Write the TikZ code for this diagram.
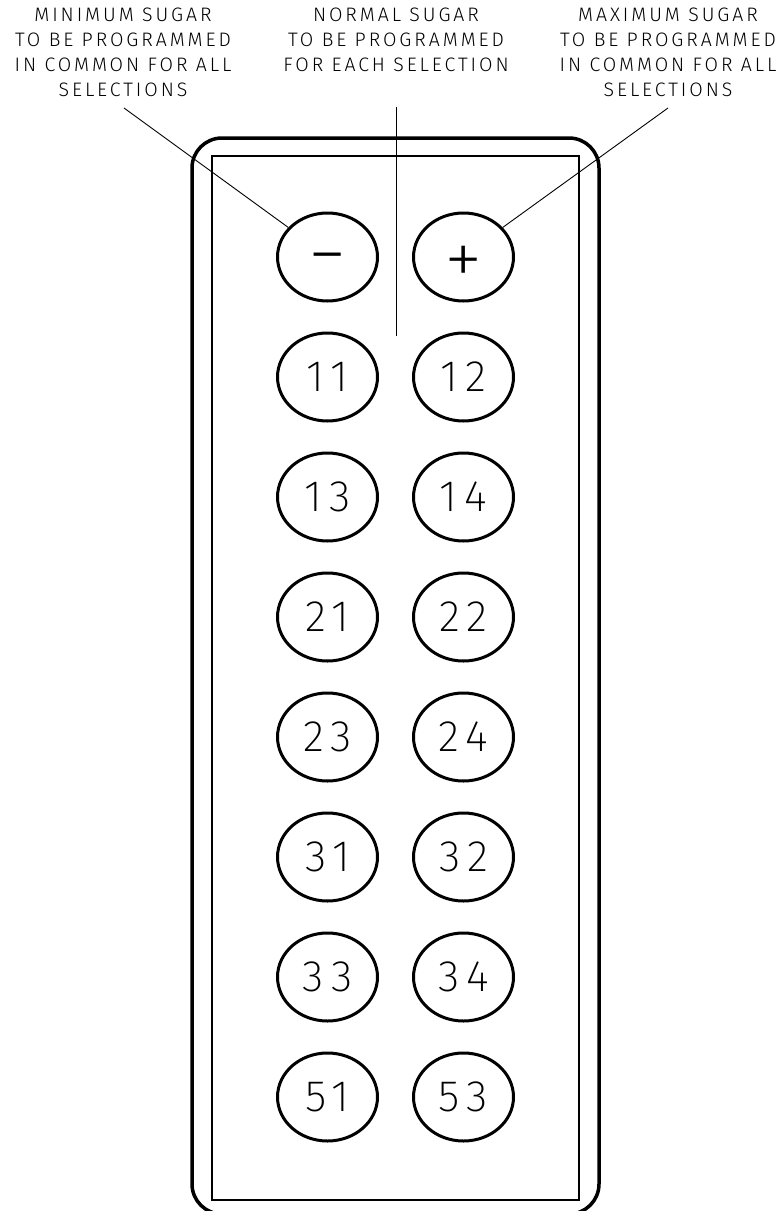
\documentclass[tikz,border=0pt]{standalone}
\usepackage{fontspec}
\usetikzlibrary{shapes.geometric}
\newcommand\thinname{Fira Sans}
\newcommand\notename{Fira Sans}
\IfFontExistsTF{Lato Light}{\renewcommand\thinname{Lato Light}}{}
\IfFontExistsTF{Fira Sans Light}{\renewcommand\thinname{Fira Sans Light}\renewcommand\notename{Fira Sans Light}}{}
\IfFontExistsTF{Fira Sans ExtraLight}{\renewcommand\thinname{Fira Sans ExtraLight}}{}
\newfontfamily\notefont{\notename}[LetterSpace=15]
\newfontfamily\keyfont{\thinname}[LetterSpace=16]

\begin{document}
\begin{tikzpicture}[x=1pt,y=-1pt,
  key/.style={ellipse,draw,line width=3pt,minimum width=100pt,minimum height=88pt,
    inner sep=0pt,font=\keyfont\fontsize{44}{44}\selectfont},
  sign/.style={key,font=\keyfont\fontsize{78}{78}\selectfont,text depth=0pt},
  note/.style={align=center,anchor=north,inner sep=0pt,
    font=\notefont\fontsize{19.5}{25}\selectfont},
  leader/.style={line width=0.9pt}]
\useasboundingbox (0,0) rectangle (782,1211);

% casing
\draw[line width=3.5pt,rounded corners=30pt] (192,138) rectangle (599,1214);
\draw[line width=1.2pt] (212,156) rectangle (579,1200);

% keys
\node[sign,text height=46pt] (kminus) at (327.5,257) {−};
\node[sign,text height=57pt] (kplus) at (463.5,257) {+};
\foreach \l/\r [count=\i] in {11/12,13/14,21/22,23/24,31/32,33/34,51/53}{
  \node[key] (k\l) at (327.5,257+120*\i) {\l};
  \node[key] (k\r) at (463.5,257+120*\i) {\r};
}

% notes
\node[note] (minnote) at (123,8) {MINIMUM SUGAR\\TO BE PROGRAMMED\\IN COMMON FOR ALL\\SELECTIONS};
\node[note] (normnote) at (396,8) {NORMAL SUGAR\\TO BE PROGRAMMED\\FOR EACH SELECTION};
\node[note] (maxnote) at (668,8) {MAXIMUM SUGAR\\TO BE PROGRAMMED\\IN COMMON FOR ALL\\SELECTIONS};

\coordinate (minfoot) at (124,108);
\coordinate (maxfoot) at (668,108);
\coordinate (normtop) at (396,107);
\coordinate (normfoot) at (396,336);
\draw[leader] (minfoot) -- (kminus.143);
\draw[leader] (maxfoot) -- (kplus.37);
\draw[leader] (normtop) -- (normfoot);
\end{tikzpicture}
\end{document}
